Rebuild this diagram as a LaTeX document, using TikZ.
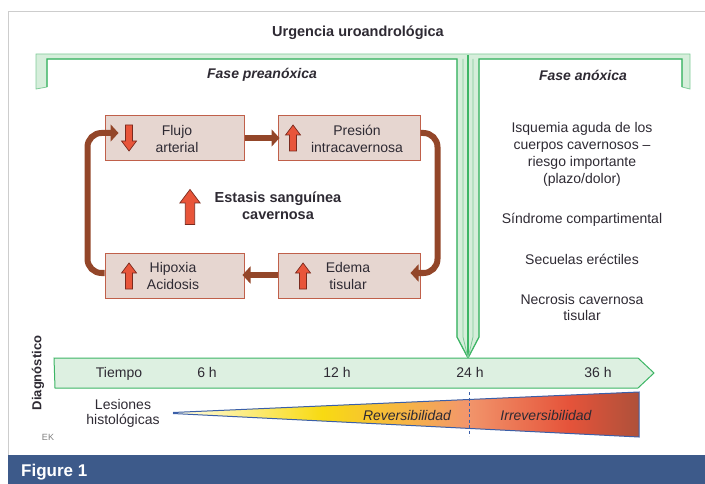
\documentclass[tikz,border=0pt]{standalone}
\usepackage{fontspec}
\setmainfont{Liberation Sans}
\usetikzlibrary{arrows.meta,calc}
\definecolor{gline}{HTML}{3DB565}
\definecolor{glight}{HTML}{7FCB98}
\definecolor{gfill}{HTML}{D6EEDB}
\definecolor{tfill}{HTML}{DDF0E1}
\definecolor{boxfill}{HTML}{E6D6D0}
\definecolor{boxline}{HTML}{C0604A}
\definecolor{arrred}{HTML}{E8553A}
\definecolor{arrdark}{HTML}{7A2A1E}
\definecolor{conncol}{HTML}{934629}
\definecolor{txt}{HTML}{2E2A33}
\definecolor{barblue}{HTML}{3D5A8A}
\definecolor{wblue}{HTML}{3B5FA8}
\definecolor{framegrey}{HTML}{CDCDCD}
\definecolor{lwa}{HTML}{FFFDEB}
\definecolor{lwb}{HTML}{F8DA12}
\definecolor{lwc}{HTML}{F6B446}
\definecolor{lwd}{HTML}{F2966C}
\definecolor{lwe}{HTML}{E5533A}
\definecolor{lwf}{HTML}{AE513A}
\pgfdeclarehorizontalshading{lesion}{100bp}{color(0bp)=(lwa); color(25bp)=(lwa); color(41bp)=(lwb); color(50bp)=(lwc); color(56.5bp)=(lwd); color(67.5bp)=(lwe); color(75bp)=(lwf); color(100bp)=(lwf)}
\tikzset{
  base/.style={inner sep=0pt, text=txt, font=\fontsize{14}{17}\selectfont, align=center},
  tl/.style={base, anchor=base},
  box/.style={draw=boxline, line width=1pt, fill=boxfill, minimum height=45pt, inner sep=0pt},
  conn/.style={draw=conncol, line width=6pt, -{Triangle[length=8pt,width=17pt]}},
  uparrow/.pic={\filldraw[fill=arrred, draw=arrdark, line width=0.7pt]
     (-3.5,13) -- (-3.5,-3) -- (-7.5,-3) -- (0,-13) -- (7.5,-3) -- (3.5,-3) -- (3.5,13) -- cycle;},
  gband/.style={fill=gfill, draw=glight, line width=0.8pt},
  gstrong/.style={draw=gline, line width=1.2pt},
}
\begin{document}
\begin{tikzpicture}[x=1pt,y=-1pt]
\useasboundingbox (0,0) rectangle (705,484);
% frame
\draw[framegrey, line width=1pt] (8,455) -- (8,12) -- (705,12);
\fill[barblue] (8,455) rectangle (705,484);
\node[base, anchor=west, text=white, font=\fontsize{17}{20}\selectfont\bfseries] (fig) at (21,472) {Figure 1};
% title
\node[base, font=\fontsize{14.5}{17}\selectfont\bfseries] (title) at (358,33) {Urgencia uroandrológica};
% green bracket
\draw[gband] (36,89) -- (36,54) -- (690,54) -- (690,89) -- (682,87) -- (682,59) -- (479,59) -- (479,337) -- (468,358) -- (457,337) -- (457,59) -- (47,59) -- (47,87) -- cycle;
\draw[gstrong] (47,87) -- (47,59) -- (457,59) -- (457,337) -- (468,358) -- (479,337) -- (479,59) -- (682,59) -- (682,87);
\draw[gline, line width=1.3pt] (468,55) -- (468,358);
\draw[glight, line width=0.8pt] (463,59) -- (463,337) -- (468,358);
\draw[glight, line width=0.8pt] (473,59) -- (473,337) -- (468,358);
\node[base, font=\fontsize{14}{17}\selectfont\bfseries\itshape] (pre) at (262,75) {Fase preanóxica};
\node[base, font=\fontsize{14}{17}\selectfont\bfseries\itshape] (anox) at (583,75) {Fase anóxica};
% boxes
\node[box, minimum width=139pt] (flujo) at (174.5,138) {};
\node[box, minimum width=142pt] (pres) at (349,138) {};
\node[box, minimum width=139pt, minimum height=44pt] (hipox) at (174.5,276) {};
\node[box, minimum width=142pt, minimum height=44pt] (edema) at (349,276) {};
\node[base] (tflujo) at (177,138.5) {Flujo\\arterial};
\node[base] (tpres) at (357,138.5) {Presión\\intracavernosa};
\node[base] (thipox) at (173,276) {Hipoxia\\Acidosis};
\node[base] (tedema) at (348,276) {Edema\\tisular};
\pic[rotate=180] at (129,138) {uparrow};
\pic at (293,138) {uparrow};
\pic at (129,276) {uparrow};
\pic at (303,276) {uparrow};
\pic[scale=1.35] at (190,207) {uparrow};
\node[base, font=\fontsize{14.5}{17}\selectfont\bfseries] (estasis) at (278,205.5) {Estasis sanguínea\\cavernosa};
% connectors
\draw[conn] (flujo.east) -- ($(pres.west)+(2,0)$);
\draw[conn, rounded corners=14pt] ($(pres.east)+(0,-5)$) -- ++(17,0) |- ($(edema.east)+(-10,-3)$);
\draw[conn] ($(edema.west)+(0,-1)$) -- ($(hipox.east)+(-2,-1)$);
\draw[conn, rounded corners=14pt] ($(hipox.west)+(0,-3)$) -- ++(-17,0) |- ($(flujo.west)+(14,-5)$);
% right column
\node[base] (isq) at (582,154.5) {Isquemia aguda de los\\cuerpos cavernosos –\\riesgo importante\\(plazo/dolor)};
\node[base] (sind) at (582,220) {Síndrome compartimental};
\node[base] (secu) at (582,259) {Secuelas eréctiles};
\node[base, font=\fontsize{14}{16}\selectfont] (necr) at (582,307.5) {Necrosis cavernosa\\tisular};
% timeline
\draw[fill=tfill, draw=gline, line width=1pt] (54,358) -- (638,358) -- (654,373) -- (638,388) -- (55,388) -- cycle;
\node[tl] (tiempo) at (119,377.5) {Tiempo};
\node[tl] (h6) at (207,377.5) {6 h};
\node[tl] (h12) at (337,377.5) {12 h};
\node[tl] (h24) at (470,377.5) {24 h};
\node[tl] (h36) at (598,377.5) {36 h};
\node[base, rotate=90, font=\fontsize{13}{15}\selectfont\bfseries] (diag) at (38,373) {Diagnóstico};
% lesion wedge
\shade[shading=lesion] (173,412.5) -- (639,392) -- (639,437) -- (173,413.5) -- cycle;
\draw[wblue, line width=1pt] (173,412.5) -- (639,392) -- (639,437) -- (173,413.5);
\draw[wblue, line width=0.9pt, dashed, dash pattern=on 3pt off 2.5pt] (469,392) -- (469,436);
\node[base, font=\fontsize{14}{17}\selectfont\itshape] (rev) at (407,415) {Reversibilidad};
\node[base, font=\fontsize{14}{17}\selectfont\itshape] (irrev) at (546,415) {Irreversibilidad};
\node[base, font=\fontsize{14}{15}\selectfont] (les) at (123,413.5) {Lesiones\\histológicas};
\node[base, text=gray, font=\fontsize{9}{10}\selectfont] (ek) at (48,437) {EK};
\end{tikzpicture}
\end{document}
